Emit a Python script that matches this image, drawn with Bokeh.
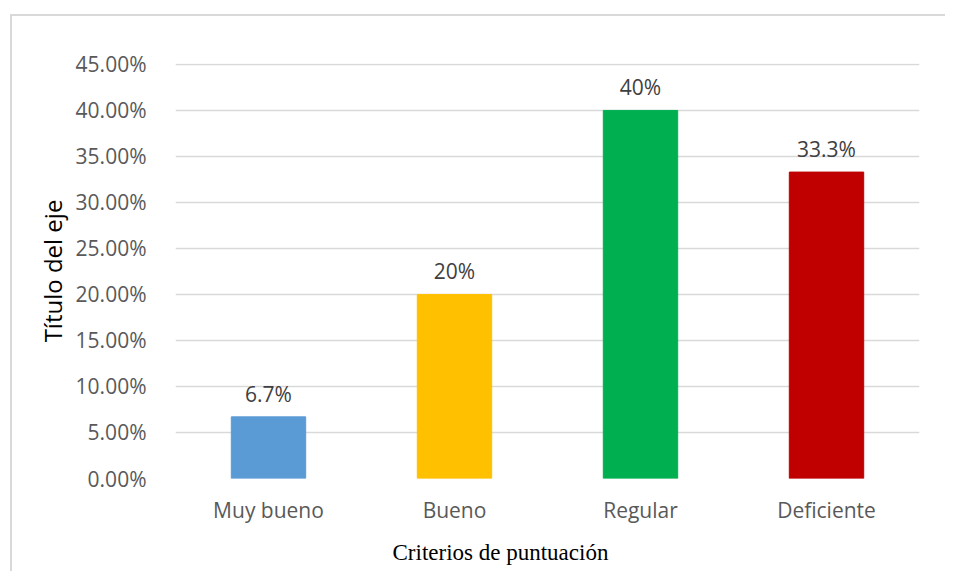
from bokeh.plotting import figure
from bokeh.models import (ColumnDataSource, NumeralTickFormatter, SingleIntervalTicker,
                          Range1d, FactorRange, Title)
from bokeh.core.properties import value
from bokeh.embed import file_html
from bokeh.resources import INLINE

categories = ["Muy bueno", "Bueno", "Regular", "Deficiente"]
values = [0.067, 0.20, 0.40, 0.333]
value_labels = ["6.7%", "20%", "40%", "33.3%"]
colors = ["#5B9BD5", "#FFC000", "#00B050", "#C00000"]

y_title = "Título del eje"
x_title = "Criterios de puntuación"

src = ColumnDataSource(dict(cat=categories, val=values, lab=value_labels, col=colors))

p = figure(frame_width=744, frame_height=415, output_backend="svg", toolbar_location=None,
           x_range=FactorRange(*categories, range_padding=0), y_range=Range1d(0, 0.451),
           min_border_left=163, min_border_right=30, min_border_top=47, min_border_bottom=0)
p.background_fill_color = "white"
p.border_fill_color = "white"
p.outline_line_color = None
p.styles = {"box-shadow": "-2px -2px 0px 0px #d9d9d9",
            "clip-path": "inset(-4px 4px 4px -4px)",
            "margin-left": "12px", "margin-top": "16px"}

p.vbar(x="cat", top="val", width=0.4, color="col", source=src)
p.text(x="cat", y="val", text="lab", source=src, text_align="center",
       text_baseline="alphabetic", y_offset=-23, text_font=value("Open Sans"),
       text_font_size="21px", text_color="#404040")

# axes
p.yaxis.ticker = SingleIntervalTicker(interval=0.05)
p.yaxis.formatter = NumeralTickFormatter(format="0.00%")
for ax in (p.xaxis[0], p.yaxis[0]):
    ax.axis_line_color = None
    ax.major_tick_line_color = None
    ax.minor_tick_line_color = None
    ax.major_label_text_font = "Open Sans"
    ax.major_label_text_font_size = "21px"
    ax.major_label_text_color = "#595959"
p.yaxis.major_label_standoff = 23
p.xaxis.major_label_standoff = 11
p.yaxis.axis_label = y_title
p.yaxis.axis_label_text_font = "Open Sans"
p.yaxis.axis_label_text_font_size = "24px"
p.yaxis.axis_label_text_font_style = "normal"
p.yaxis.axis_label_text_color = "black"
p.yaxis.axis_label_standoff = 4

p.xgrid.grid_line_color = None
p.ygrid.grid_line_color = "#d9d9d9"
p.ygrid.grid_line_width = 1.5

p.add_layout(Title(text=x_title, align="left", offset=217, standoff=22,
                   text_line_height=1.0,
                   text_font="Liberation Serif", text_font_size="23px",
                   text_font_style="normal", text_color="black"), "below")

open("out.html", "w").write(file_html(p, INLINE))
